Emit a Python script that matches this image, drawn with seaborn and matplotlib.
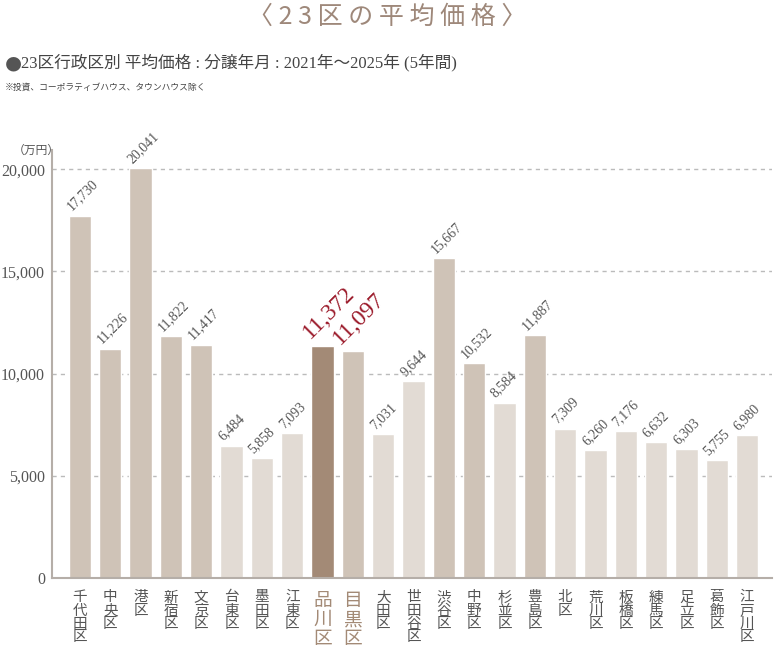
import matplotlib
matplotlib.use('Agg')
import matplotlib.pyplot as plt
import seaborn as sns
import pandas as pd

# data
wards = ['千代田区', '中央区', '港区', '新宿区', '文京区', '台東区', '墨田区', '江東区',
         '品川区', '目黒区', '大田区', '世田谷区', '渋谷区', '中野区', '杉並区', '豊島区',
         '北区', '荒川区', '板橋区', '練馬区', '足立区', '葛飾区', '江戸川区']
prices = [17730, 11226, 20041, 11822, 11417, 6484, 5858, 7093,
          11372, 11097, 7031, 9644, 15667, 10532, 8584, 11887,
          7309, 6260, 7176, 6632, 6303, 5755, 6980]
highlight = ['品川区', '目黒区']
yticks = [0, 5000, 10000, 15000, 20000]

DARK = '#a38a76'
MID = '#cfc3b7'
LIGHT = '#e2dbd4'
RED = '#9b1a2a'
GRAY = '#555555'

sns.set_style('white')
plt.rcParams['font.family'] = ['Liberation Serif', 'Noto Sans CJK JP']

df = pd.DataFrame({'ward': wards, 'price': prices})
palette = {}
for w, p in zip(wards, prices):
    if w == '品川区':
        palette[w] = DARK
    elif p >= 10000:
        palette[w] = MID
    else:
        palette[w] = LIGHT

fig = plt.figure(figsize=(7.74, 6.49), dpi=100)
ax = fig.add_axes([0.0672, 0.1094, 0.9302, 0.6596])

sns.barplot(data=df, x='ward', y='price', hue='ward', palette=palette,
            legend=False, width=0.73, saturation=1, ax=ax)

ax.set_xlim(-0.92, 22.82)
ax.set_ylim(0, 20950)
ax.set_yticks(yticks)
ax.set_yticklabels([f'{v:,}' for v in yticks], fontsize=11.5, color=GRAY,
                   family=['Liberation Serif'])
ax.tick_params(axis='y', length=0, pad=5)
ax.tick_params(axis='x', length=0, pad=9)
ax.set_xlabel('')
ax.set_ylabel('')

for v in yticks[1:]:
    ax.axhline(v, color='#bbbbbb', lw=1, ls=(0, (3, 3)), zorder=0)

for s in ['top', 'right']:
    ax.spines[s].set_visible(False)
for s in ['left', 'bottom']:
    ax.spines[s].set_color('#b5aea8')
    ax.spines[s].set_linewidth(1.5)

ax.set_xticks(range(len(wards)))
ax.set_xticklabels(['\n'.join(w) for w in wards], va='top', linespacing=0.92,
                   family=['Noto Sans CJK JP'])
for lab, w in zip(ax.get_xticklabels(), wards):
    if w in highlight:
        lab.set_fontsize(13.5)
        lab.set_linespacing(0.86)
        lab.set_color('#a38a76')
    else:
        lab.set_fontsize(10.5)
        lab.set_color(GRAY)

# value labels
for i, (w, p) in enumerate(zip(wards, prices)):
    if w in highlight:
        ax.text(i - 0.3, p + 120, f'{p:,}', rotation=45, rotation_mode='anchor',
                ha='left', va='bottom', fontsize=17, color=RED,
                family=['Liberation Serif'])
    else:
        ax.text(i - 0.22, p + 120, f'{p:,}', rotation=45, rotation_mode='anchor',
                ha='left', va='bottom', fontsize=10, color=GRAY,
                family=['Liberation Serif'])

fig.text(0.047, 0.769, '（万円）', fontsize=8.5, color=GRAY, ha='center', va='center',
         family=['Noto Sans CJK JP'])

fig.text(0.5, 0.974, '〈 2 3 区 の 平 均 価 格 〉', ha='center', va='center',
         fontsize=18, color='#9e887a', family=['Noto Sans CJK JP'])
fig.text(0.006, 0.903, '●', ha='left', va='center', fontsize=14, color='#555555',
         family=['DejaVu Sans'])
fig.text(0.027, 0.903, '23区行政区別 平均価格 : 分譲年月 : 2021年～2025年 (5年間)',
         ha='left', va='center', fontsize=12, color='#444444')
fig.text(0.006, 0.865, '※投資、コーポラティブハウス、タウンハウス除く',
         ha='left', va='center', fontsize=6.3, color='#444444',
         family=['Noto Sans CJK JP'])

fig.savefig('out.png', dpi=100)
